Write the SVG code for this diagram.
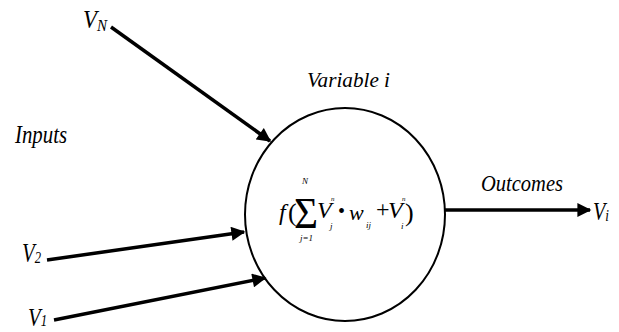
<svg xmlns="http://www.w3.org/2000/svg" width="619" height="332" viewBox="0 0 619 332">
<style>
text{font-family:'Liberation Serif','Times New Roman',serif;font-style:italic;fill:#000}
.up{font-style:normal}
.ln{stroke:#000;stroke-width:3.5;fill:none}
</style>
<defs>
<marker id="ah" viewBox="0 0 10 10" refX="9" refY="5" markerWidth="4.2" markerHeight="4" orient="auto" markerUnits="strokeWidth">
<path d="M0,0 L10,5 L0,10 z" fill="#000"/>
</marker>
</defs>
<rect width="619" height="332" fill="#fff"/>
<g id="node-variable">
<ellipse cx="345" cy="214.5" rx="100" ry="106.5" fill="#fff" stroke="#000" stroke-width="2"/>
<text x="307" y="87" font-size="21" textLength="83" lengthAdjust="spacingAndGlyphs">Variable i</text>
<text id="formula" font-size="24"><tspan x="279" y="220">f</tspan><tspan class="up" x="288" y="221" font-size="26">(</tspan><tspan class="up" x="294" y="228" font-size="44" textLength="24" lengthAdjust="spacingAndGlyphs">Σ</tspan><tspan x="302" y="184" font-size="9">N</tspan><tspan x="300" y="241" font-size="9">j=1</tspan><tspan x="317" y="218" font-size="24">V</tspan><tspan x="331" y="201" font-size="7">n</tspan><tspan x="330" y="229" font-size="9">j</tspan><tspan class="up" x="338" y="218" font-size="20">•</tspan><tspan x="349" y="220" font-size="22">w</tspan><tspan x="366" y="228" font-size="9">ij</tspan><tspan class="up" x="376" y="217" font-size="24">+</tspan><tspan x="388" y="218" font-size="24">V</tspan><tspan x="402" y="201" font-size="7">n</tspan><tspan x="401" y="229" font-size="9">i</tspan><tspan class="up" x="405" y="221" font-size="26">)</tspan></text>
</g>
<g id="node-vn"><text x="83" y="28" font-size="26" textLength="24" lengthAdjust="spacingAndGlyphs">V<tspan font-size="17" dy="3">N</tspan></text></g>
<g id="node-inputs"><text x="15" y="143" font-size="25" textLength="52" lengthAdjust="spacingAndGlyphs">Inputs</text></g>
<g id="node-v2"><text x="22" y="262" font-size="28" textLength="19" lengthAdjust="spacingAndGlyphs">V<tspan font-size="17" dy="1">2</tspan></text></g>
<g id="node-v1"><text x="28" y="326" font-size="26" textLength="19" lengthAdjust="spacingAndGlyphs">V<tspan font-size="16" dy="0">1</tspan></text></g>
<g id="node-outcomes"><text x="481" y="191" font-size="24" textLength="82" lengthAdjust="spacingAndGlyphs">Outcomes</text></g>
<g id="node-vi"><text x="593" y="220" font-size="26" textLength="16" lengthAdjust="spacingAndGlyphs">V<tspan font-size="17" dy="1">i</tspan></text></g>
<g id="connectors">
<line class="ln" x1="111" y1="27" x2="270" y2="141" marker-end="url(#ah)"/>
<line class="ln" x1="47" y1="260" x2="244" y2="232" marker-end="url(#ah)"/>
<line class="ln" x1="54" y1="320" x2="265" y2="278" marker-end="url(#ah)"/>
<line class="ln" x1="445" y1="210" x2="590" y2="210" marker-end="url(#ah)"/>
</g>
</svg>
